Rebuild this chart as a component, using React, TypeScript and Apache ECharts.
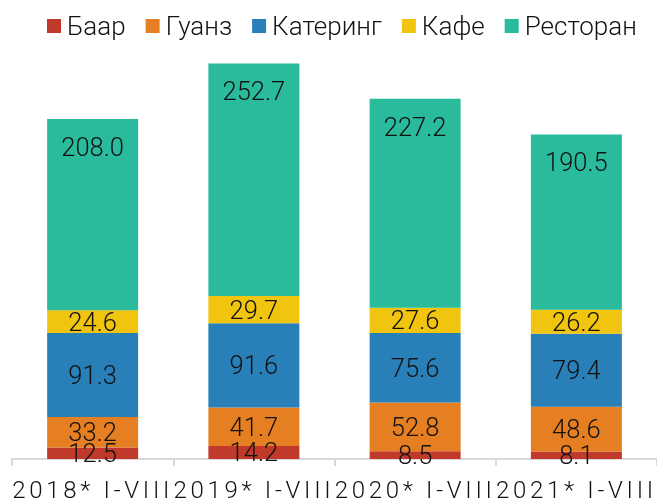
import React, { useEffect, useRef } from "react";
import * as echarts from "echarts";

const categories = ["2018* I-VIII", "2019* I-VIII", "2020* I-VIII", "2021* I-VIII"];
const seriesNames = ["Баар", "Гуанз", "Катеринг", "Кафе", "Ресторан"];
const baar = [12.5, 14.2, 8.5, 8.1];
const guanz = [33.2, 41.7, 52.8, 48.6];
const catering = [91.3, 91.6, 75.6, 79.4];
const cafe = [24.6, 29.7, 27.6, 26.2];
const restoran = [208.0, 252.7, 227.2, 190.5];
const colors = ["#C0392B", "#E67E22", "#2980B9", "#F1C40F", "#29BB9B"];

const FONT = "Roboto";

export default function App() {
  const ref = useRef<HTMLDivElement>(null);
  useEffect(() => {
    if (!ref.current) return;
    const chart = echarts.init(ref.current, null, { renderer: "svg" });
    const dataSets = [baar, guanz, catering, cafe, restoran];
    const series = dataSets.map((d, i) => ({
      name: seriesNames[i],
      type: "bar",
      stack: "total",
      barWidth: 91,
      data: d,
      itemStyle: { color: colors[i] },
      label: {
        show: true,
        position: i === 4 ? "insideTop" : "inside",
        distance: i === 4 ? 15 : 5,
        color: "#111111",
        fontFamily: FONT,
        fontWeight: 300,
        fontSize: 25.5,
        formatter: (p: any) => Number(p.value).toFixed(1),
      },
    }));
    chart.setOption({
      animation: false,
      color: colors,
      legend: {
        top: 13,
        left: 47,
        padding: 0,
        itemWidth: 14,
        itemHeight: 14,
        itemGap: 20,
        icon: "rect",
        textStyle: { fontFamily: FONT, fontWeight: 300, fontSize: 26, color: "#111111", padding: [0, 0, 0, 1] },
        data: seriesNames,
      },
      grid: { left: 12, right: -3, top: 45, bottom: 45, containLabel: false },
      xAxis: {
        type: "category",
        data: categories,
        axisLine: { lineStyle: { color: "#d9d9d9", width: 2 } },
        axisTick: { show: true, length: 7, lineStyle: { color: "#d9d9d9", width: 2 } },
        axisLabel: {
          interval: 0,
          margin: 19,
          color: "#111111",
          fontFamily: FONT,
          fontWeight: 300,
          fontSize: 24,
        },
      },
      yAxis: {
        type: "value",
        min: 0,
        max: 450,
        show: false,
        splitLine: { show: false },
      },
      series,
    });
    const texts = ref.current.querySelectorAll("text");
    texts.forEach((t) => {
      if (categories.includes((t.textContent || "").trim())) {
        t.setAttribute("letter-spacing", "3.7");
      }
    });
    return () => chart.dispose();
  }, []);
  return (
    <div
      ref={ref}
      style={{ position: "fixed", left: 0, top: 0, width: 657, height: 504 }}
    />
  );
}
